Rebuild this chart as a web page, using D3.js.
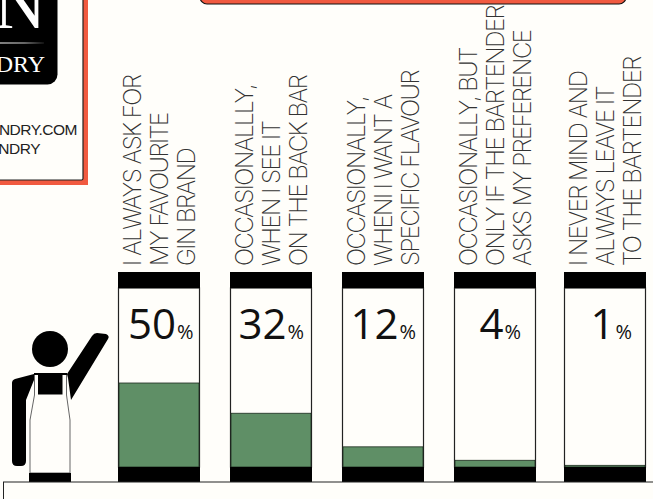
<!DOCTYPE html>
<html><head><meta charset="utf-8">
<script src="https://cdn.jsdelivr.net/npm/d3@7"></script>
<style>html,body{margin:0;padding:0;background:#fffefa;overflow:hidden}svg{display:block}</style>
</head><body><svg id="c" width="653" height="499"></svg>
<script>
const values=[50,32,12,4,1];
const valueLabels=["50","32","12","4","1"];
const barLefts=[118,230,342,454,564];
const labels=[
 ["I ALWAYS ASK FOR","MY FAVOURITE","GIN BRAND"],
 ["OCCASIONALLLY,","WHEN I SEE IT","ON THE BACK BAR"],
 ["OCCASIONALLY,","WHENI I WANT A","SPECIFIC FLAVOUR"],
 ["OCCASIONALLY, BUT","ONLY IF THE BARTENDER","ASKS MY PREFERENCE"],
 ["I NEVER MIND AND","ALWAYS LEAVE IT","TO THE BARTENDER"]];
const valueRight=[193.5,304,416,521,632];
const red="#f15a40",green="#5f8f66",paper="#fffefa";
const svg=d3.select("#c");
svg.append("rect").attr("width",653).attr("height",499).attr("fill",paper);
const y=d3.scaleLinear().domain([0,100]).range([467,299]);
const grad=svg.append("defs").append("linearGradient").attr("id","fade");
grad.append("stop").attr("offset","0").attr("stop-color","#fff");
grad.append("stop").attr("offset","0.55").attr("stop-color","#ccc");
grad.append("stop").attr("offset","1").attr("stop-color","#222");

// top banner
svg.append("rect").attr("x",200).attr("y",-30).attr("width",426).attr("height",34).attr("rx",7)
 .attr("fill",red).attr("stroke","#111").attr("stroke-width",1.2);
// card
svg.append("rect").attr("x",-20).attr("y",-20).attr("width",108).attr("height",205).attr("fill",red);
svg.append("rect").attr("x",-20).attr("y",-20).attr("width",103).attr("height",200).attr("rx",1.5)
 .attr("fill",paper).attr("stroke","#222").attr("stroke-width",1.2);
svg.append("rect").attr("x",-20).attr("y",-20).attr("width",77.5).attr("height",104.5).attr("rx",10).attr("fill","#000");
svg.append("text").attr("x",46).attr("y",28).attr("text-anchor","end").attr("font-family","Liberation Serif")
 .attr("font-size",72).attr("fill","#fff").text("N");
svg.append("rect").attr("x",0).attr("y",42.5).attr("width",44).attr("height",1).attr("fill","url(#fade)");
svg.append("text").attr("x",45).attr("y",72).attr("text-anchor","end").attr("font-family","Liberation Serif")
 .attr("font-size",24).attr("fill","#fff").text("DRY");
svg.selectAll("text.contact").data([["NDRY.COM",77,134.5],["NDRY",40,153.5]]).join("text")
 .attr("class","contact").attr("x",d=>d[1]).attr("y",d=>d[2]).attr("text-anchor","end")
 .attr("font-family","Liberation Sans").attr("font-size",15.5).attr("letter-spacing",-0.5).attr("fill","#222").text(d=>d[0]);

// bars
const g=svg.selectAll("g.bar").data(values).join("g").attr("class","bar");
const bw=82;
g.append("rect").attr("x",(d,i)=>barLefts[i]+.5).attr("y",288).attr("width",bw-1).attr("height",179)
 .attr("fill",paper).attr("stroke","#222").attr("stroke-width",1.2);
g.append("rect").attr("x",(d,i)=>barLefts[i]+1).attr("y",d=>y(d)).attr("width",bw-2).attr("height",d=>y(0)-y(d))
 .attr("fill",green).attr("stroke","#1c2a1e").attr("stroke-width",.8);
g.append("rect").attr("x",(d,i)=>barLefts[i]).attr("y",272).attr("width",bw).attr("height",16).attr("fill","#000");
g.append("rect").attr("x",(d,i)=>barLefts[i]).attr("y",467).attr("width",bw).attr("height",15).attr("fill","#000");
const t=g.append("text").attr("x",(d,i)=>valueRight[i]).attr("y",338.5).attr("text-anchor","end")
 .attr("font-family","Open Sans").attr("fill","#111").attr("font-weight",400);
t.append("tspan").attr("font-size",42).text((d,i)=>valueLabels[i]);
t.append("tspan").attr("font-size",20).attr("dx",1).text("%");

// rotated labels
const lineX=[[141,168,195],[253,280,307],[365,392,419],[477,504,531],[587,614,641]];
labels.forEach((ls,i)=>ls.forEach((s,j)=>{
 svg.append("text").attr("transform",`translate(${lineX[i][j]-.5},266) rotate(-90)`)
  .attr("font-family","Inter").attr("font-weight",200).attr("font-size",24).attr("letter-spacing",-1.5)
  .attr("fill","#333").text(s);
}));

// bartender pictogram
svg.append("circle").attr("cx",50).attr("cy",349).attr("r",18).attr("fill","#000");
svg.append("path").attr("fill","#000").attr("d","M67 374L92 336Q94 333 97 333L106 334Q110 336 108 339L71 400L68 378Z");
svg.append("path").attr("fill","#000").attr("d","M34 374L15 379Q12 380 12 383L12 461Q12 466 17 466L21 466Q26 466 26 461L26 400L34 380Z");
svg.append("path").attr("fill",paper).attr("stroke","#666").attr("stroke-width",1)
 .attr("d","M34.5 374L34.5 395L30 420L30 473L70 473L70 420L66.5 395L66.5 374Z");
svg.append("rect").attr("x",34).attr("y",373).attr("width",33).attr("height",2).attr("fill","#000");
svg.append("rect").attr("x",38).attr("y",374).attr("width",24.5).attr("height",20.5).attr("fill","#000");
svg.append("rect").attr("x",29).attr("y",473).attr("width",42).attr("height",9).attr("fill","#000");

// bottom panel
svg.append("rect").attr("x",3.5).attr("y",482).attr("width",680).attr("height",40).attr("fill",paper).attr("stroke","#222").attr("stroke-width",1);
</script></body></html>
